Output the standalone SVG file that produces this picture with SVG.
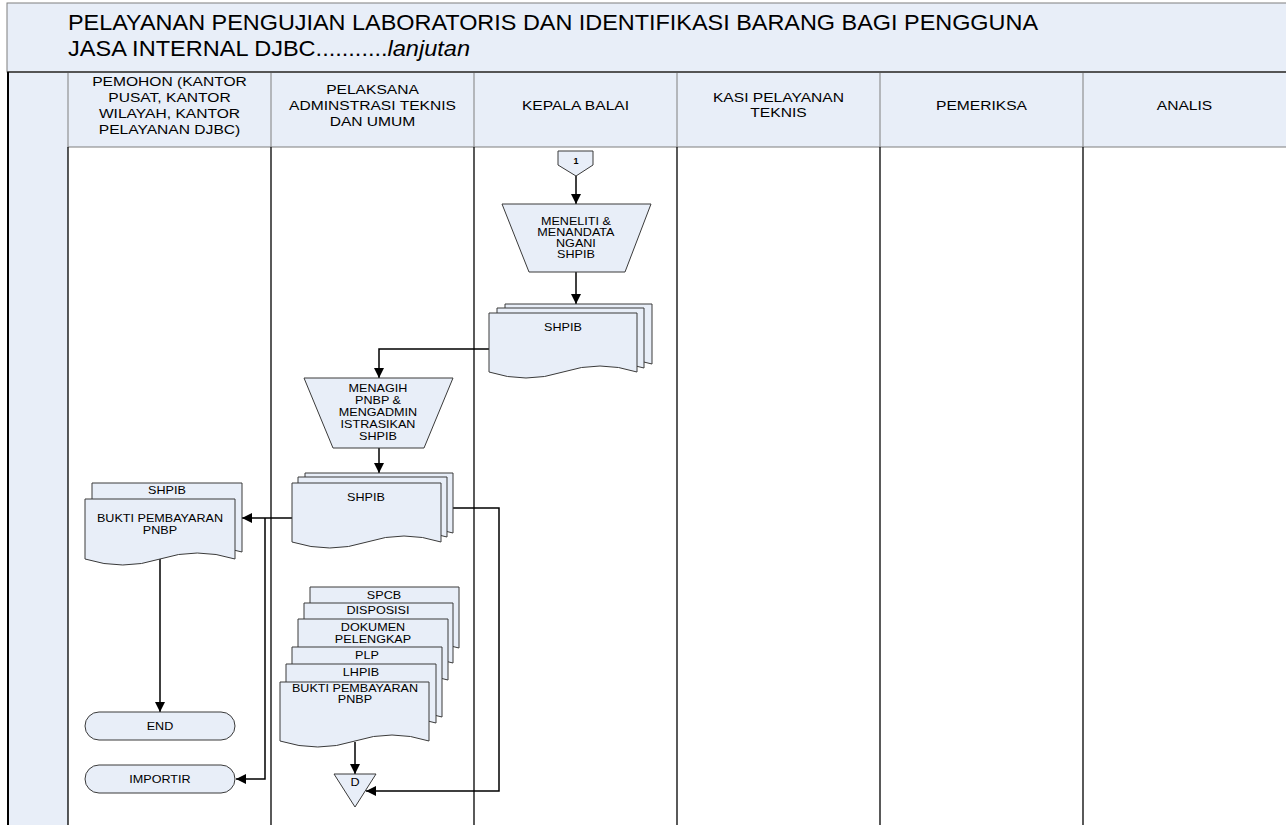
<svg xmlns="http://www.w3.org/2000/svg" width="1286" height="825" viewBox="0 0 1286 825">
<style>
text{font-family:"Liberation Sans",Arial,sans-serif;fill:#000}
.t{font-size:22px}
.h{font-size:13px;text-anchor:middle;transform-box:fill-box;transform-origin:center;transform:scaleX(1.2)}
.s{font-size:10px;text-anchor:middle;transform-box:fill-box;transform-origin:center;transform:scaleX(1.26)}
.shape{fill:#E8EEF8;stroke:#3a3a3a;stroke-width:1}
.lane{stroke:#000;stroke-width:1.3;fill:none}
.hdr{fill:#E8EEF8;stroke:#7f7f7f;stroke-width:1}
.con{stroke:#000;stroke-width:1.5;fill:none}
</style>
<defs>
<marker id="ar" viewBox="0 0 10 10" refX="10" refY="5" markerWidth="10" markerHeight="10" markerUnits="userSpaceOnUse" orient="auto">
<path d="M0,0 L10,5 L0,10 z" fill="#000"/>
</marker>
</defs>
<rect width="1286" height="825" fill="#fff"/>
<g id="title">
<rect x="7" y="3" width="1284" height="69" class="hdr"/>
<text class="t" x="68" y="30" textLength="970" lengthAdjust="spacingAndGlyphs">PELAYANAN PENGUJIAN LABORATORIS DAN IDENTIFIKASI BARANG BAGI PENGGUNA</text>
<text class="t" x="68" y="56" textLength="402" lengthAdjust="spacingAndGlyphs">JASA INTERNAL DJBC...........<tspan font-style="italic">lanjutan</tspan></text>
</g>
<g id="lanes">
<rect x="8" y="72" width="60" height="760" fill="#E8EEF8"/>
<rect x="68" y="72" width="1222" height="75" class="hdr"/>
<line x1="271" y1="72" x2="271" y2="147" stroke="#7f7f7f"/>
<line x1="474" y1="72" x2="474" y2="147" stroke="#7f7f7f"/>
<line x1="677" y1="72" x2="677" y2="147" stroke="#7f7f7f"/>
<line x1="880" y1="72" x2="880" y2="147" stroke="#7f7f7f"/>
<line x1="1083" y1="72" x2="1083" y2="147" stroke="#7f7f7f"/>
<line x1="7" y1="72" x2="1286" y2="72" stroke="#555" stroke-width="2"/>
<line x1="8" y1="72" x2="8" y2="825" stroke="#000" stroke-width="2"/>
<line x1="68" y1="147" x2="68" y2="825" class="lane"/>
<line x1="271" y1="147" x2="271" y2="825" class="lane"/>
<line x1="474" y1="147" x2="474" y2="825" class="lane"/>
<line x1="677" y1="147" x2="677" y2="825" class="lane"/>
<line x1="880" y1="147" x2="880" y2="825" class="lane"/>
<line x1="1083" y1="147" x2="1083" y2="825" class="lane"/>
<text class="h"><tspan x="169.5" y="86">PEMOHON (KANTOR</tspan><tspan x="169.5" y="102">PUSAT, KANTOR</tspan><tspan x="169.5" y="118">WILAYAH, KANTOR</tspan><tspan x="169.5" y="134">PELAYANAN DJBC)</tspan></text>
<text class="h"><tspan x="372.5" y="94">PELAKSANA</tspan><tspan x="372.5" y="110">ADMINSTRASI TEKNIS</tspan><tspan x="372.5" y="126">DAN UMUM</tspan></text>
<text class="h" x="575.5" y="110">KEPALA BALAI</text>
<text class="h"><tspan x="778.5" y="102">KASI PELAYANAN</tspan><tspan x="778.5" y="117">TEKNIS</tspan></text>
<text class="h" x="981.5" y="110">PEMERIKSA</text>
<text class="h" x="1184.5" y="110">ANALIS</text>
</g>
<g id="connectors">
<line x1="576" y1="176" x2="576" y2="204" class="con" marker-end="url(#ar)"/>
<line x1="576" y1="272" x2="576" y2="304" class="con" marker-end="url(#ar)"/>
<polyline points="489,349 379,349 379,378" class="con" marker-end="url(#ar)"/>
<line x1="379" y1="448" x2="379" y2="473" class="con" marker-end="url(#ar)"/>
<line x1="292" y1="518" x2="242" y2="518" class="con" marker-end="url(#ar)"/>
<polyline points="265,518 265,779 236,779" class="con" marker-end="url(#ar)"/>
<polyline points="453,508 499,508 499,791 366,791" class="con" marker-end="url(#ar)"/>
<line x1="160" y1="559" x2="160" y2="712" class="con" marker-end="url(#ar)"/>
<line x1="355" y1="742" x2="355" y2="774" class="con" marker-end="url(#ar)"/>
</g>
<g id="n-off1">
<polygon points="558,151 593,151 593,165 576,176 558,165" class="shape"/>
<text x="576" y="164" font-size="9" font-weight="bold" text-anchor="middle">1</text>
</g>
<g id="n-meneliti">
<polygon points="502,204 651,204 625,272 529,272" class="shape"/>
<text class="s"><tspan x="576" y="225">MENELITI &amp;</tspan><tspan x="576" y="236">MENANDATA</tspan><tspan x="576" y="247">NGANI</tspan><tspan x="576" y="258">SHPIB</tspan></text>
</g>
<g id="n-shpib1">
<path d="M505,304 H652 V364 Q615,352 578,364 T505,364 Z" class="shape"/>
<path d="M497,308 H644 V368 Q607,356 570,368 T497,368 Z" class="shape"/>
<path d="M489,313 H637 V372 Q600,360 563,372 T489,372 Z" class="shape"/>
<text class="s" x="563" y="331">SHPIB</text>
</g>
<g id="n-menagih">
<polygon points="304,378 453,378 424,448 333,448" class="shape"/>
<text class="s"><tspan x="378" y="392">MENAGIH</tspan><tspan x="378" y="404">PNBP &amp;</tspan><tspan x="378" y="416">MENGADMIN</tspan><tspan x="378" y="428">ISTRASIKAN</tspan><tspan x="378" y="440">SHPIB</tspan></text>
</g>
<g id="n-shpib2">
<path d="M305,473 H453 V533 Q416,521 379,533 T305,533 Z" class="shape"/>
<path d="M298,477 H447 V537 Q410,525 373,537 T298,537 Z" class="shape"/>
<path d="M292,483 H441 V542 Q404,530 367,542 T292,542 Z" class="shape"/>
<text class="s" x="366" y="501">SHPIB</text>
</g>
<g id="n-bukti1">
<path d="M92,483 H242 V552 Q204,540 167,552 T92,552 Z" class="shape"/>
<text class="s" x="167" y="494">SHPIB</text>
<path d="M85,499 H235 V559 Q197,547 160,559 T85,559 Z" class="shape"/>
<text class="s"><tspan x="160" y="522">BUKTI PEMBAYARAN</tspan><tspan x="160" y="534">PNBP</tspan></text>
</g>
<g id="n-end">
<rect x="85" y="712" width="150" height="28" rx="14" class="shape"/>
<text class="s" x="160" y="730">END</text>
</g>
<g id="n-importir">
<rect x="85" y="765" width="150" height="28" rx="14" class="shape"/>
<text class="s" x="160" y="783">IMPORTIR</text>
</g>
<g id="n-stack">
<path d="M310,587 H459 V648 Q422,636 385,648 T310,648 Z" class="shape"/>
<text class="s" x="384" y="599">SPCB</text>
<path d="M304,603 H453 V663 Q416,651 379,663 T304,663 Z" class="shape"/>
<text class="s" x="378" y="614">DISPOSISI</text>
<path d="M298,619 H448 V680 Q411,668 373,680 T298,680 Z" class="shape"/>
<text class="s"><tspan x="373" y="631">DOKUMEN</tspan><tspan x="373" y="643">PELENGKAP</tspan></text>
<path d="M292,647 H442 V717 Q405,705 367,717 T292,717 Z" class="shape"/>
<text class="s" x="367" y="659">PLP</text>
<path d="M286,664 H436 V723 Q399,711 361,723 T286,723 Z" class="shape"/>
<text class="s" x="361" y="676">LHPIB</text>
<path d="M280,682 H429 V741 Q392,729 355,741 T280,741 Z" class="shape"/>
<text class="s"><tspan x="355" y="692">BUKTI PEMBAYARAN</tspan><tspan x="355" y="703">PNBP</tspan></text>
</g>
<g id="n-offD">
<polygon points="334,774 376,774 355,807" class="shape"/>
<text class="s" x="355" y="786">D</text>
</g>
</svg>
